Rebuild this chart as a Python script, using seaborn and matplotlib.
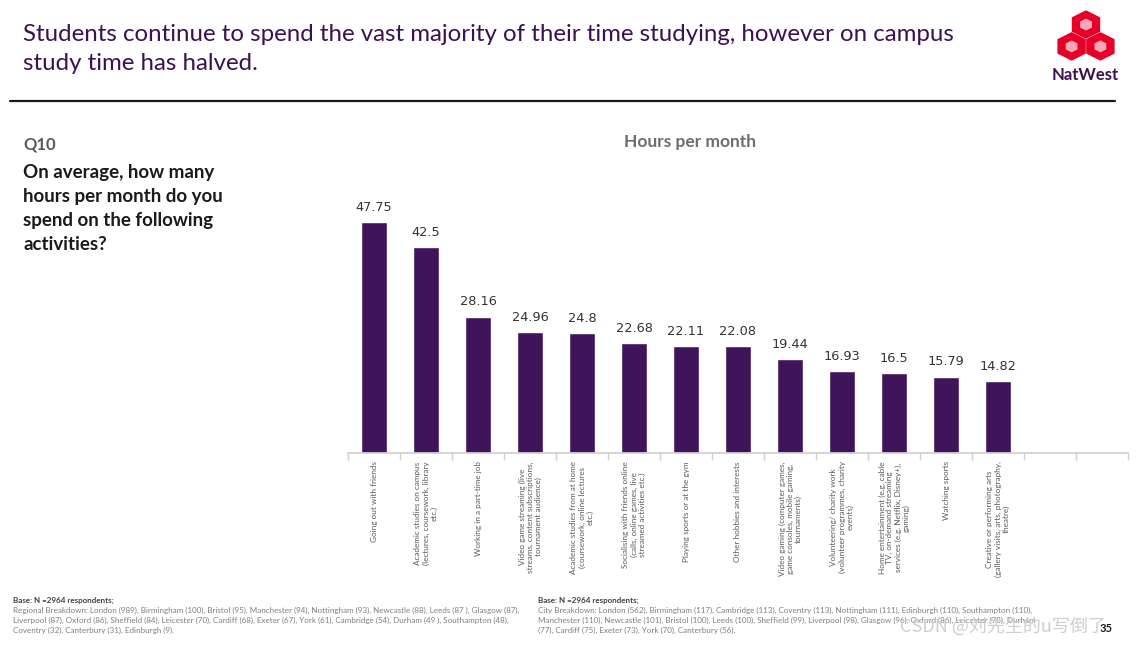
import numpy as np
import matplotlib
matplotlib.use("Agg")
import matplotlib.pyplot as plt
from matplotlib.patches import RegularPolygon
import seaborn as sns

activities = [
    "Going out with friends",
    "Academic studies on campus\n(lectures, coursework, library\netc.)",
    "Working in a part-time job",
    "Video game streaming (live\nstreams, content subscriptions,\ntournament audience)",
    "Academic studies from at home\n(coursework, online lectures\netc.)",
    "Socialising with friends online\n(calls, online games, live\nstreamed activities etc.)",
    "Playing sports or at the gym",
    "Other hobbies and interests",
    "Video gaming (computer games,\ngame consoles, mobile gaming,\ntournaments)",
    "Volunteering/ charity work\n(volunteer programmes, charity\nevents)",
    "Home entertainment (e.g. cable\nTV, on-demand streaming\nservices (e.g. Netflix, Disney+),\ngaming)",
    "Watching sports",
    "Creative or performing arts\n(gallery visits, arts, photography,\ntheatre)",
]
hours = [47.75, 42.5, 28.16, 24.96, 24.8, 22.68, 22.11, 22.08, 19.44, 16.93, 16.5, 15.79, 14.82]
n_slots = 15  # chart keeps two empty category slots on the right

title = ("Students continue to spend the vast majority of their time studying, however on campus\n"
         "study time has halved.")
question = "On average, how many\nhours per month do you\nspend on the following\nactivities?"
footer_left = [
    "Regional Breakdown: London (989), Birmingham (100), Bristol (95), Manchester (94), Nottingham (93), Newcastle (88), Leeds (87 ), Glasgow (87),",
    "Liverpool (87), Oxford (86), Sheffield (84), Leicester (70), Cardiff (68), Exeter (67), York (61), Cambridge (54), Durham (49 ), Southampton (48),",
    "Coventry (32), Canterbury (31), Edinburgh (9).",
]
footer_right = [
    "City Breakdown: London (562), Birmingham (117), Cambridge (113), Coventry (113), Nottingham (111), Edinburgh (110), Southampton (110),",
    "Manchester (110), Newcastle (101), Bristol (100), Leeds (100), Sheffield (99), Liverpool (98), Glasgow (96), Oxford (86), Leicester (78), Durham",
    "(77), Cardiff (75), Exeter (73), York (70), Canterbury (56).",
]

PURPLE = "#40145A"
TITLE_PURPLE = "#3C1053"
W, H = 1137, 645

sns.set_theme(style="white")
plt.rcParams["font.family"] = ["Lato", "DejaVu Sans"]


def fx(x):
    return x / W


def fy(y):
    return 1 - y / H


fig = plt.figure(figsize=(W / 100, H / 100), dpi=100)
ax = fig.add_axes([fx(348), fy(453), fx(1128) - fx(348), fy(211) - fy(453)])

sns.barplot(x=activities, y=hours, color=PURPLE, width=0.5, saturation=1, ax=ax)
ax.bar_label(ax.containers[0], labels=[f"{v:g}" for v in hours], padding=6,
             fontsize=9.3, color="#333333", family="DejaVu Sans")

ax.set_xlim(-0.5, n_slots - 0.5)
ax.set_ylim(0, 50)
ax.set_yticks([])
ax.set_xticks(range(len(activities)))
ax.set_xticklabels(activities, rotation=90, fontsize=5.9, color="#595959",
                   ha="center", va="top", multialignment="center", linespacing=1.15)
ax.set_xticks(np.arange(-0.5, n_slots, 1), minor=True)
ax.tick_params(axis="x", which="major", length=0, pad=6)
ax.tick_params(axis="x", which="minor", length=5, color="#d0d0d0", width=1, direction="out", bottom=True)
for s in ["left", "top", "right"]:
    ax.spines[s].set_visible(False)
ax.spines["bottom"].set_color("#d0d0d0")
ax.set_xlabel("")
ax.set_ylabel("")

# header
fig.text(fx(23), fy(24), title, fontsize=17.3, color=TITLE_PURPLE, va="top", linespacing=1.45)
fig.add_artist(plt.Line2D([fx(10), fx(1115)], [fy(101), fy(101)], color="#1a1a1a", lw=1.6))

# logo
lax = fig.add_axes([fx(1056), fy(62), fx(60), fy(10) - fy(62)])
lax.set_xlim(0, 1)
lax.set_ylim(0, 1)
lax.axis("off")
for cx, cy in [(0.5, 0.72), (0.26, 0.3), (0.74, 0.3)]:
    lax.add_patch(RegularPolygon((cx, cy), 6, radius=0.26, orientation=0, color="#E60028"))
    lax.add_patch(RegularPolygon((cx, cy), 6, radius=0.1, orientation=0, color="#F7A8B4"))
fig.text(fx(1085), fy(75), "NatWest", fontsize=12, color=TITLE_PURPLE, ha="center", va="center",
         weight="bold")

# left question block
fig.text(fx(23), fy(145), "Q10", fontsize=12, weight="bold", color="#595959", va="center")
fig.text(fx(23), fy(164), question, fontsize=13.5, weight="bold", color="#1a1a1a", va="top",
         linespacing=1.5)
fig.text(fx(690), fy(142), "Hours per month", fontsize=12.5, weight="bold", color="#6d6d6d",
         ha="center", va="center")

# footer
for x0, lines in [(13, footer_left), (538, footer_right)]:
    fig.text(fx(x0), fy(600), "Base: N =2964 respondents;", fontsize=5.8, weight="bold",
             color="#404040", va="center")
    for i, line in enumerate(lines):
        fig.text(fx(x0), fy(610 + 10 * i), line, fontsize=5.8, color="#7f7f7f", va="center")

fig.text(fx(900), fy(627), "CSDN @刘先生的u写倒了", fontsize=13, color="#cfcfcf", va="center",
         family=["Noto Sans CJK SC", "DejaVu Sans"])
fig.text(fx(1100), fy(628), "35", fontsize=8, weight="bold", color="#1a1a1a", va="center")

fig.savefig("out.png", dpi=100)
